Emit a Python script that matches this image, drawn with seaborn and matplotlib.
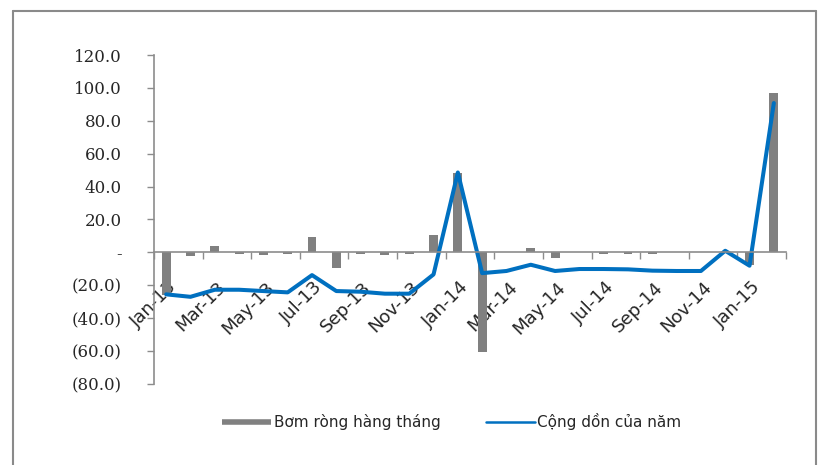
import numpy as np
import pandas as pd
import matplotlib
matplotlib.use("Agg")
import matplotlib.pyplot as plt
from matplotlib.lines import Line2D
from matplotlib.transforms import ScaledTranslation
import seaborn as sns

months = ['Jan-13', 'Feb-13', 'Mar-13', 'Apr-13', 'May-13', 'Jun-13', 'Jul-13', 'Aug-13',
          'Sep-13', 'Oct-13', 'Nov-13', 'Dec-13', 'Jan-14', 'Feb-14', 'Mar-14', 'Apr-14',
          'May-14', 'Jun-14', 'Jul-14', 'Aug-14', 'Sep-14', 'Oct-14', 'Nov-14', 'Dec-14',
          'Jan-15', 'Feb-15']
monthly = [-26.0, -2.4, 3.6, -1.0, -1.6, -0.8, 9.1, -9.7, -0.8, -1.4, -0.8, 10.5, 48.2,
           -60.8, 0.0, 2.8, -3.6, 0.0, -0.8, -0.8, -0.8, 0.0, 0.0, 0.0, -7.5, 96.9]
cumulative = [-25.5, -27.0, -22.7, -22.7, -23.5, -24.3, -13.8, -23.5, -23.9, -25.1, -25.1,
              -13.4, 48.6, -12.6, -11.3, -7.5, -11.3, -10.1, -10.1, -10.3, -11.1, -11.3,
              -11.3, 1.0, -8.1, 90.8]
yticks = [-80, -60, -40, -20, 0, 20, 40, 60, 80, 100, 120]
series_names = ['Bơm ròng hàng tháng', 'Cộng dồn của năm']

BAR_C = '#808080'
LINE_C = '#0070C0'
AX_C = '#8C8C8C'

sns.set_style("white")
plt.rcParams['font.family'] = ['DejaVu Sans']

df = pd.DataFrame({'idx': np.arange(len(months)), 'month': months,
                   'monthly': monthly, 'cumulative': cumulative})

fig = plt.figure(figsize=(8.18, 4.65), dpi=100)
ax = fig.add_axes([154/818, 1-384/465, (786-154)/818, (384-55)/465])

sns.barplot(data=df, x='idx', y='monthly', color=BAR_C, width=0.37, ax=ax,
            saturation=1, edgecolor='none')
sns.lineplot(data=df, x='idx', y='cumulative', color=LINE_C, linewidth=2.9, ax=ax)

ax.set_xlim(-0.5, len(months) - 0.5)
ax.set_ylim(-80, 120)
ax.set_xlabel('')
ax.set_ylabel('')

for s in ['top', 'right']:
    ax.spines[s].set_visible(False)
ax.spines['bottom'].set_position(('data', 0))
ax.spines['bottom'].set_color(AX_C)
ax.spines['left'].set_color(AX_C)
ax.spines['bottom'].set_linewidth(1.2)
ax.spines['left'].set_linewidth(1.2)

def yfmt(v):
    if v == 0:
        return '-'
    if v < 0:
        return f'({abs(v):.1f})'
    return f'{v:.1f}'

ax.set_yticks(yticks)
ax.set_yticklabels([yfmt(v) for v in yticks], family='DejaVu Serif', fontsize=12)
ax.tick_params(axis='y', direction='out', length=5, width=1, color=AX_C, pad=18,
               left=True)

pos = list(range(0, len(months), 2))
ax.set_xticks(pos)
ax.set_xticklabels([months[i] for i in pos], rotation=45, ha='right', va='center',
                   rotation_mode='anchor', fontsize=13)
ax.set_xticks(np.arange(-0.5, len(months), 2), minor=True)
ax.tick_params(axis='x', which='major', length=0, pad=23)
ax.tick_params(axis='x', which='minor', direction='out', length=5, width=1, color=AX_C,
               bottom=True)
off = ScaledTranslation(8/100, 0, fig.dpi_scale_trans)
for lab in ax.get_xticklabels():
    lab.set_transform(lab.get_transform() + off)
ax.grid(False)

handles = [Line2D([0], [0], color=BAR_C, lw=4, solid_capstyle='butt'),
           Line2D([0], [0], color=LINE_C, lw=1.8)]
fig.legend(handles, series_names, loc='center', bbox_to_anchor=(452/818, 1-422/465),
           ncol=2, frameon=False, fontsize=11, handlelength=3.2, handletextpad=0.15,
           columnspacing=3.0)

# outer chart border
fig.add_artist(Line2D([13/818, 13/818], [0, 1-11/465], transform=fig.transFigure,
                      color='#8A8A8A', lw=1.5))
fig.add_artist(Line2D([13/818, 816/818], [1-11/465, 1-11/465], transform=fig.transFigure,
                      color='#8A8A8A', lw=1.5))
fig.add_artist(Line2D([816/818, 816/818], [0, 1-11/465], transform=fig.transFigure,
                      color='#8A8A8A', lw=1.5))

fig.savefig('out.png', dpi=100, facecolor='white')
